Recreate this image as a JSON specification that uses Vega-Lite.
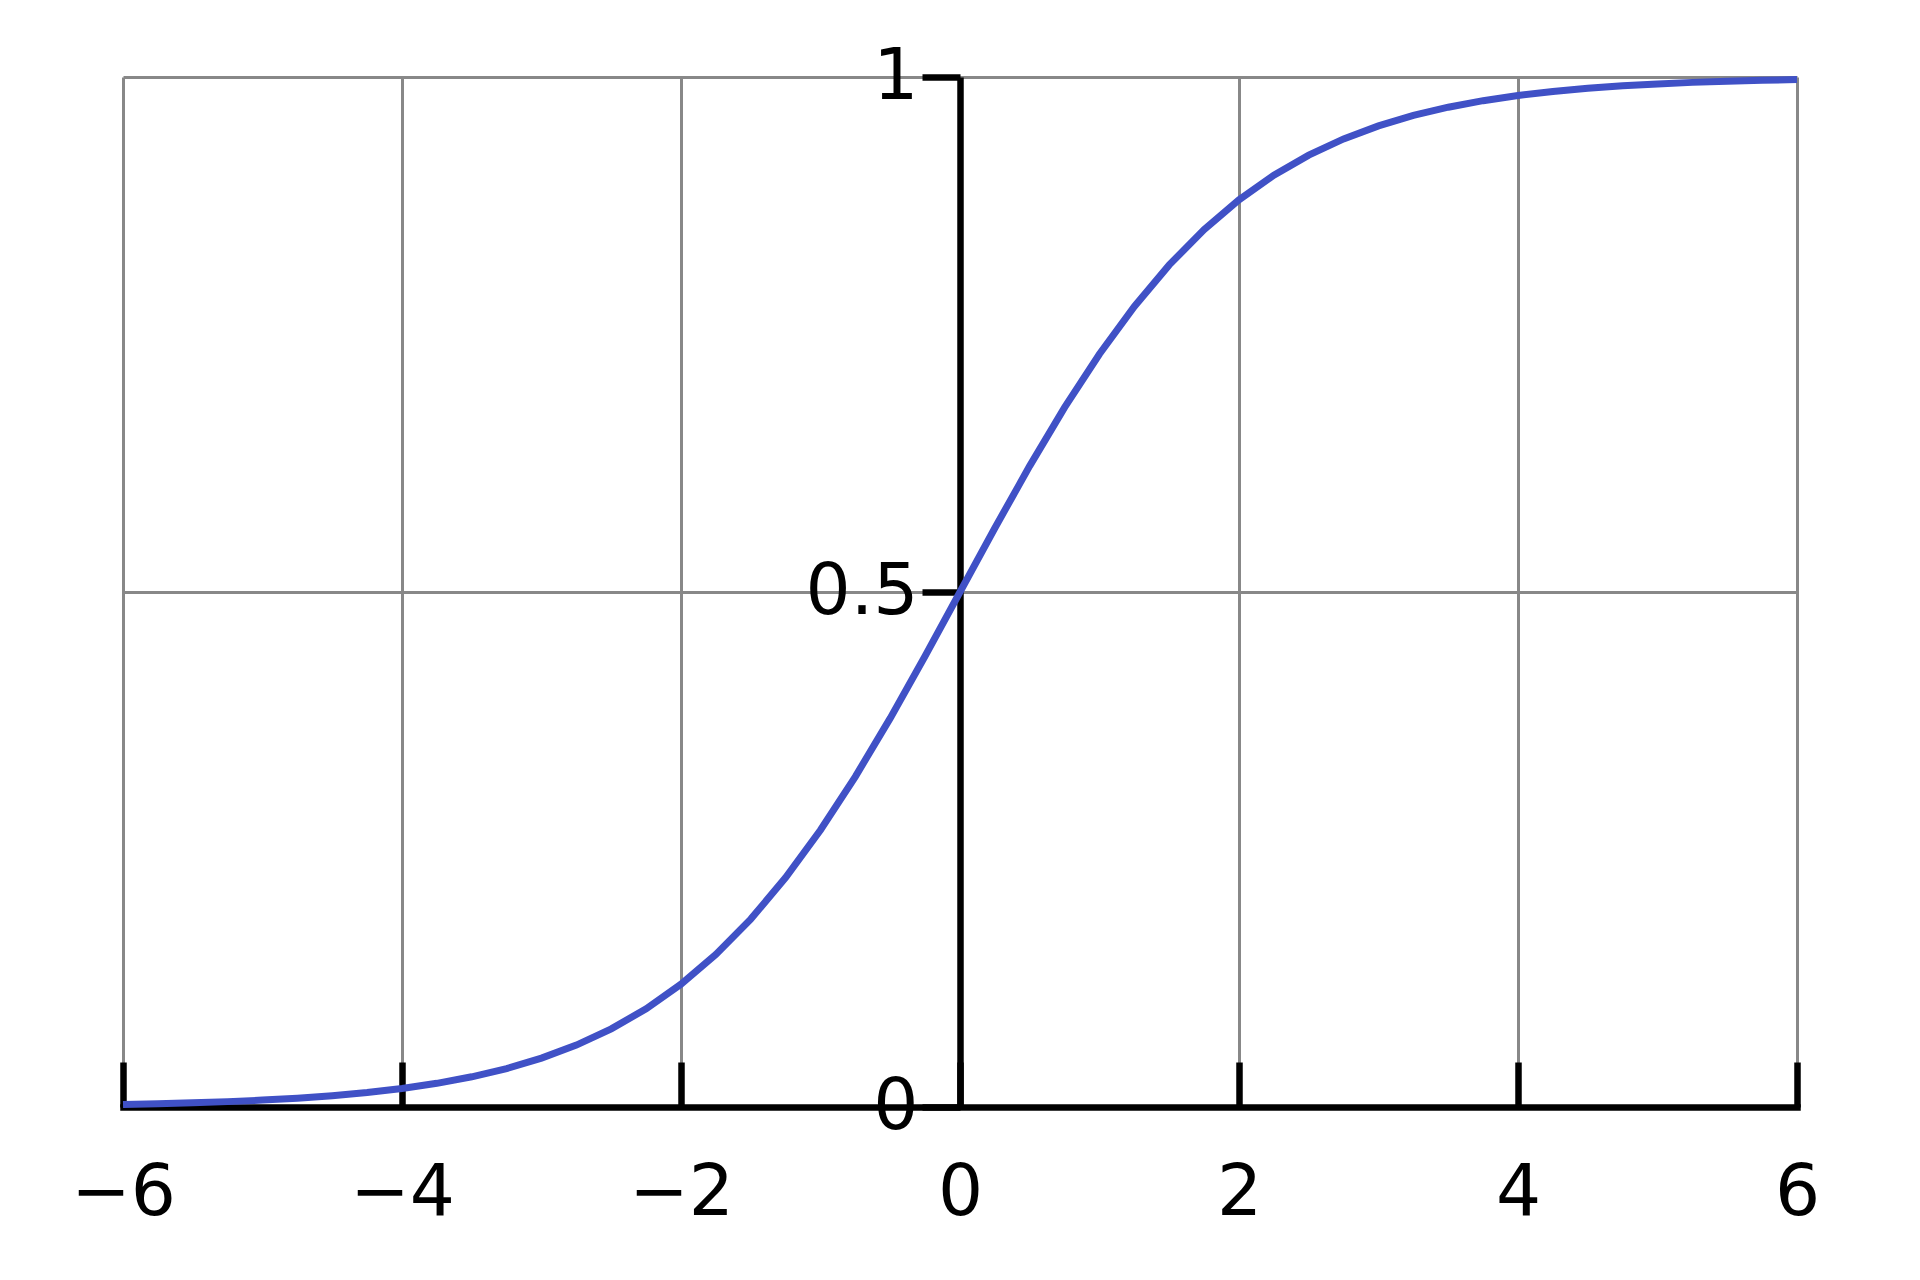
{
  "$schema": "https://vega.github.io/schema/vega-lite/v6.json",
  "autosize": "none",
  "width": 1674,
  "height": 1030,
  "padding": {"left": 123, "top": 77, "right": 123, "bottom": 173},
  "background": "white",
  "data": {
    "values": [
      {"x": -6, "y": 0.00247}, {"x": -5.75, "y": 0.00317}, {"x": -5.5, "y": 0.00407},
      {"x": -5.25, "y": 0.00522}, {"x": -5, "y": 0.00669}, {"x": -4.75, "y": 0.00858},
      {"x": -4.5, "y": 0.01099}, {"x": -4.25, "y": 0.01406}, {"x": -4, "y": 0.01799},
      {"x": -3.75, "y": 0.02298}, {"x": -3.5, "y": 0.02931}, {"x": -3.25, "y": 0.03733},
      {"x": -3, "y": 0.04743}, {"x": -2.75, "y": 0.06009}, {"x": -2.5, "y": 0.07586},
      {"x": -2.25, "y": 0.09535}, {"x": -2, "y": 0.1192}, {"x": -1.75, "y": 0.14805},
      {"x": -1.5, "y": 0.18243}, {"x": -1.25, "y": 0.2227}, {"x": -1, "y": 0.26894},
      {"x": -0.75, "y": 0.32082}, {"x": -0.5, "y": 0.37754}, {"x": -0.25, "y": 0.43782},
      {"x": 0, "y": 0.5},
      {"x": 0.25, "y": 0.56218}, {"x": 0.5, "y": 0.62246}, {"x": 0.75, "y": 0.67918},
      {"x": 1, "y": 0.73106}, {"x": 1.25, "y": 0.7773}, {"x": 1.5, "y": 0.81757},
      {"x": 1.75, "y": 0.85195}, {"x": 2, "y": 0.8808}, {"x": 2.25, "y": 0.90465},
      {"x": 2.5, "y": 0.92414}, {"x": 2.75, "y": 0.93991}, {"x": 3, "y": 0.95257},
      {"x": 3.25, "y": 0.96267}, {"x": 3.5, "y": 0.97069}, {"x": 3.75, "y": 0.97702},
      {"x": 4, "y": 0.98201}, {"x": 4.25, "y": 0.98594}, {"x": 4.5, "y": 0.98901},
      {"x": 4.75, "y": 0.99142}, {"x": 5, "y": 0.99331}, {"x": 5.25, "y": 0.99478},
      {"x": 5.5, "y": 0.99593}, {"x": 5.75, "y": 0.99683}, {"x": 6, "y": 0.99753}
    ]
  },
  "mark": {"type": "line", "color": "#4051c6", "strokeWidth": 7, "clip": false},
  "encoding": {
    "x": {
      "field": "x",
      "type": "quantitative",
      "scale": {"domain": [-6, 6], "nice": false, "zero": false},
      "axis": {
        "title": null,
        "values": [-6, -4, -2, 0, 2, 4, 6],
        "labelExpr": "datum.value < 0 ? '\u2212' + abs(datum.value) : datum.value + ''",
        "grid": true,
        "gridColor": "#888888",
        "gridWidth": 3,
        "domainColor": "black",
        "domainWidth": 6.5,
        "domainCap": "square",
        "tickColor": "black",
        "tickWidth": 6.5,
        "tickSize": -45,
        "labelPadding": 96,
        "labelFont": "DejaVu Sans",
        "labelFontSize": 71,
        "labelColor": "black",
        "labelFlush": false,
        "labelOverlap": false
      }
    },
    "y": {
      "field": "y",
      "type": "quantitative",
      "scale": {"domain": [0, 1], "nice": false},
      "axis": {
        "title": null,
        "values": [0, 0.5, 1],
        "labelExpr": "datum.value + ''",
        "offset": -837,
        "grid": true,
        "gridColor": {"condition": {"test": "datum.value === 0", "value": "transparent"}, "value": "#888888"},
        "gridWidth": 3,
        "domainColor": "black",
        "domainWidth": 6.5,
        "tickColor": "black",
        "tickWidth": 6.5,
        "tickSize": 38,
        "labelPadding": 4,
        "labelFont": "DejaVu Sans",
        "labelFontSize": 71,
        "labelColor": "black",
        "labelFlush": false,
        "labelOverlap": false
      }
    }
  },
  "config": {"view": {"stroke": null}}
}
